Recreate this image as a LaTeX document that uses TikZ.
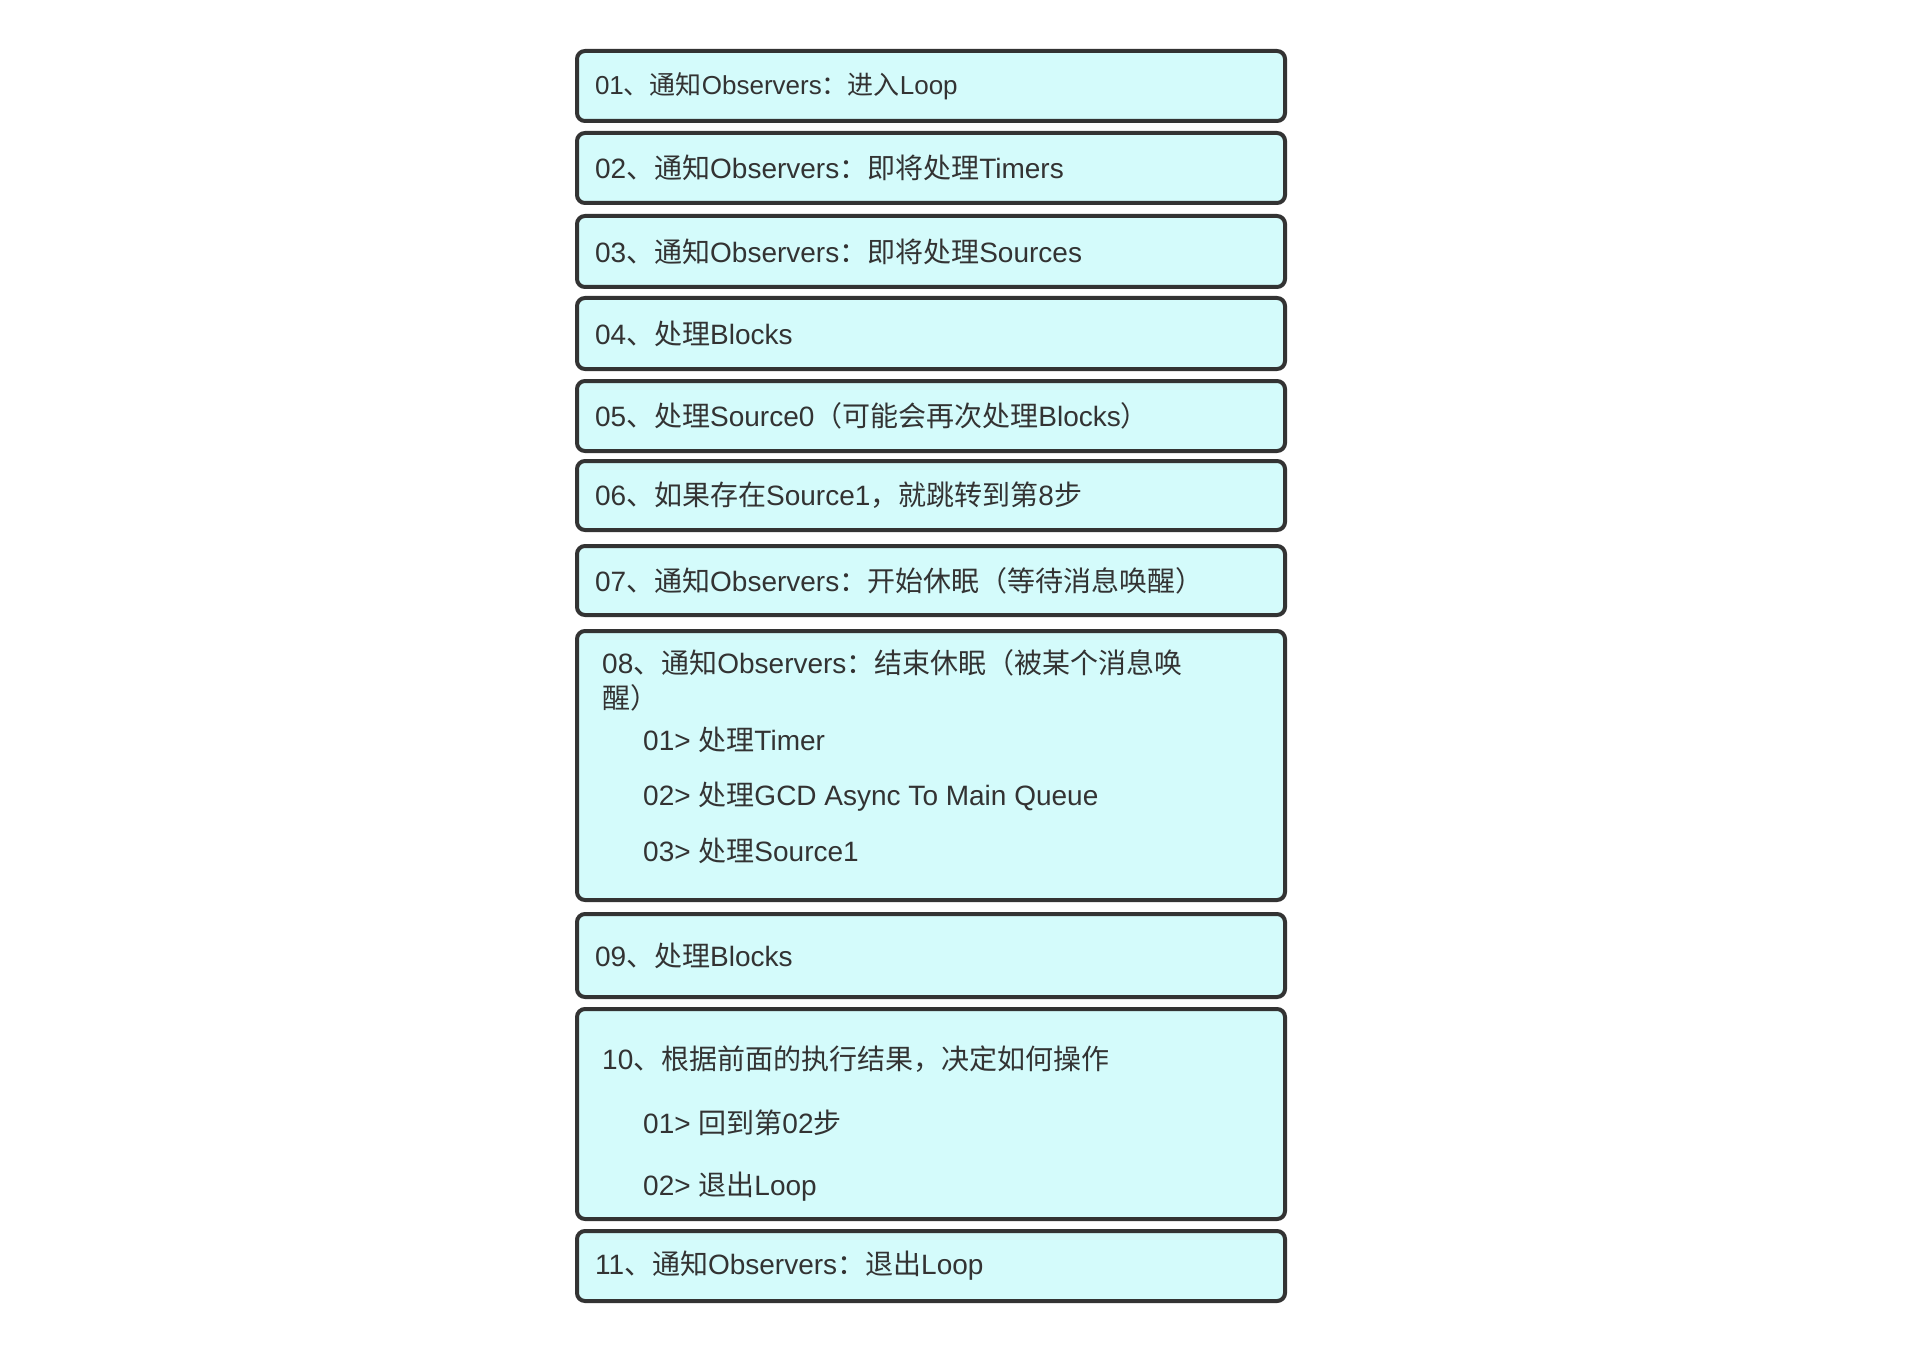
\documentclass[tikz,border=0pt]{standalone}
\usepackage{fontspec}
\setmainfont{Liberation Sans}
\newfontfamily\cjk{Noto Sans CJK SC}
\newcommand{\C}[1]{{\cjk #1}}
\definecolor{boxfill}{RGB}{212,251,251}
\definecolor{boxline}{RGB}{51,51,51}
\definecolor{txt}{RGB}{51,51,51}
\begin{document}
\begin{tikzpicture}[x=1pt,y=-1pt,
  box/.style={draw=boxline, line width=4pt, fill=boxfill, rounded corners=8pt,
    minimum width=708pt, inner xsep=18pt, inner ysep=0pt, text width=672pt, align=left,
    text=txt, font=\fontsize{28}{34}\selectfont, anchor=north west},
  lbl/.style={anchor=west, inner sep=0pt, text=txt, font=\fontsize{28}{34}\selectfont}]
\useasboundingbox (0,0) rectangle (1914,1356);
\node[box, minimum height=70pt, font=\fontsize{26}{32}\selectfont] (b1) at (575,49) {01\C{、通知}Observers\C{：进入}Loop};
\node[box, minimum height=70pt] (b2) at (575,131) {02\C{、通知}Observers\C{：即将处理}Timers};
\node[box, minimum height=71pt] (b3) at (575,214) {03\C{、通知}Observers\C{：即将处理}Sources};
\node[box, minimum height=71pt] (b4) at (575,296) {04\C{、处理}Blocks};
\node[box, minimum height=70pt] (b5) at (575,379) {05\C{、处理}Source0\C{（可能会再次处理}Blocks\C{）}};
\node[box, minimum height=69pt] (b6) at (575,459) {06\C{、如果存在}Source1\C{，就跳转到第}8\C{步}};
\node[box, minimum height=69pt] (b7) at (575,544) {07\C{、通知}Observers\C{：开始休眠（等待消息唤醒）}};
\node[box, minimum height=269pt] (b8) at (575,629) {};
\node[box, minimum height=83pt] (b9) at (575,912) {09\C{、处理}Blocks};
\node[box, minimum height=210pt] (b10) at (575,1007) {};
\node[box, minimum height=70pt] (b11) at (575,1229) {11\C{、通知}Observers\C{：退出}Loop};
\node[lbl] (t8a) at (602,663) {08\C{、通知}Observers\C{：结束休眠（被某个消息唤}};
\node[lbl] (t8b) at (602,698) {\C{醒）}};
\node[lbl] (t8c) at (643,740) {01> \C{处理}Timer};
\node[lbl] (t8d) at (643,797) {02> \C{处理}GCD Async To Main Queue};
\node[lbl] (t8e) at (643,851) {03> \C{处理}Source1};
\node[lbl] (t10a) at (602,1059) {10\C{、根据前面的执行结果，决定如何操作}};
\node[lbl] (t10b) at (643,1123) {01> \C{回到第}02\C{步}};
\node[lbl] (t10c) at (643,1187) {02> \C{退出}Loop};
\end{tikzpicture}
\end{document}
